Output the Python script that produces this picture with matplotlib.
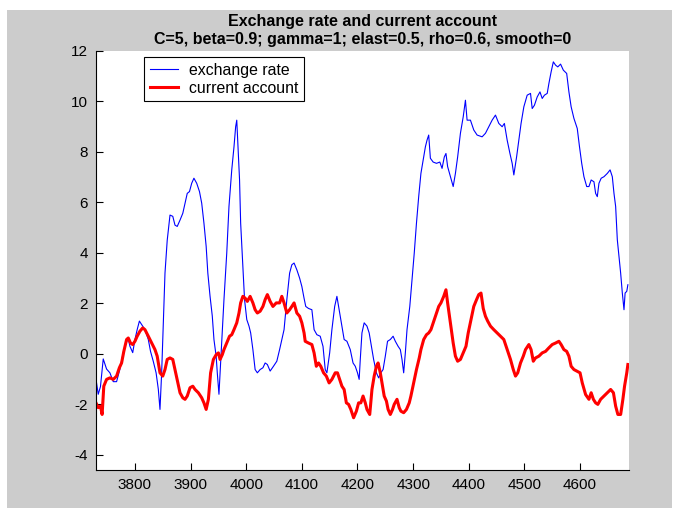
import numpy as np
import matplotlib
matplotlib.use('Agg')
from matplotlib import pyplot as plt
from matplotlib.patches import Rectangle

plt.rcParams['font.family'] = ['Liberation Sans', 'DejaVu Sans']
plt.rcParams['axes.unicode_minus'] = False

title_text = 'Exchange rate and current account\nC=5, beta=0.9; gamma=1; elast=0.5, rho=0.6, smooth=0'
labels = ['exchange rate', 'current account']
x_ticks = [3800, 3900, 4000, 4100, 4200, 4300, 4400, 4500, 4600]
y_ticks = [-4, -2, 0, 2, 4, 6, 8, 10, 12]

# exchange rate
ex_x = [3730, 3734, 3738, 3743, 3749, 3755, 3761, 3767, 3773, 3779, 3784, 3788, 3791, 3796,
        3800, 3804, 3808, 3814, 3818, 3824, 3828, 3833, 3838, 3842, 3845, 3848, 3851, 3854,
        3858, 3863, 3868, 3872, 3876, 3881, 3886, 3890, 3894, 3898, 3902, 3906, 3911, 3916,
        3920, 3924, 3928, 3931, 3935, 3939, 3942, 3946, 3948, 3951, 3953, 3956, 3960, 3965,
        3969, 3974, 3978, 3981, 3983, 3985, 3988, 3990, 3994, 3997, 4001, 4005, 4008, 4012,
        4016, 4020, 4025, 4030, 4034, 4038, 4043, 4049, 4055, 4060, 4064, 4068, 4073, 4078,
        4082, 4086, 4091, 4096, 4100, 4104, 4107, 4112, 4118, 4122, 4127, 4133, 4138, 4142,
        4145, 4150, 4154, 4159, 4163, 4168, 4172, 4176, 4181, 4187, 4192, 4196, 4200, 4203,
        4205, 4208, 4212, 4217, 4221, 4225, 4229, 4234, 4238, 4242, 4246, 4250, 4254, 4259,
        4264, 4268, 4273, 4277, 4280, 4283, 4286, 4289, 4294, 4298, 4302, 4306, 4310, 4314,
        4318, 4322, 4325, 4328, 4331, 4336, 4342, 4348, 4352, 4356, 4359, 4362, 4367, 4372,
        4376, 4380, 4385, 4390, 4394, 4397, 4403, 4409, 4415, 4424, 4430, 4436, 4442, 4448,
        4454, 4460, 4464, 4469, 4474, 4478, 4481, 4486, 4490, 4494, 4499, 4505, 4511, 4514,
        4518, 4523, 4528, 4532, 4536, 4541, 4544, 4548, 4552, 4556, 4560, 4565, 4570, 4576,
        4580, 4584, 4589, 4595, 4599, 4603, 4607, 4612, 4616, 4620, 4625, 4628, 4631, 4634,
        4638, 4643, 4649, 4654, 4658, 4661, 4664, 4667, 4670, 4673, 4676, 4679, 4681, 4684,
        4686]
ex_y = [-1.0, -1.6, -1.3, -0.2, -0.6, -0.75, -1.1, -1.1, -0.6, 0.05, 0.43, 0.6, 0.3, 0.05,
        0.57, 0.96, 1.3, 1.1, 0.96, 0.57, 0.1, -0.3, -0.75, -1.4, -2.2, -0.75, 1.2, 3.2,
        4.5, 5.5, 5.45, 5.1, 5.05, 5.3, 5.57, 5.97, 6.36, 6.43, 6.76, 6.96, 6.76, 6.43,
        5.97, 5.18, 4.26, 3.2, 2.28, 1.5, 0.57, -0.1, -0.75, -1.6, -0.75, 0.57, 2.15, 3.99,
        5.84, 7.29, 8.2, 9.0, 9.26, 8.34, 6.9, 5.18, 3.47, 2.15, 1.36, 1.1, 0.83, 0.17,
        -0.62, -0.75, -0.62, -0.55, -0.36, -0.42, -0.68, -0.49, -0.29, 0.17, 0.57, 0.96, 2.15, 3.2,
        3.53, 3.6, 3.33, 3.0, 2.67, 2.2, 1.88, 1.8, 1.75, 0.96, 0.76, 0.7, 0.3, -0.62,
        -0.75, 0.04, 0.96, 1.88, 2.28, 1.62, 1.1, 0.57, 0.5, 0.17, -0.36, -0.49, -0.75, -1.01,
        -0.22, 0.83, 1.23, 1.1, 0.83, 0.3, -0.22, -0.75, -0.95, -0.75, -0.62, -0.09, 0.5, 0.57,
        0.7, 0.5, 0.3, 0.17, -0.22, -0.75, 0.04, 0.96, 1.88, 2.94, 3.99, 5.18, 6.23, 7.15,
        7.68, 8.2, 8.47, 8.67, 7.75, 7.6, 7.55, 7.6, 7.35, 7.8, 7.94, 7.42, 7.02, 6.63,
        7.15, 7.8, 8.74, 9.39, 10.05, 9.26, 9.26, 8.87, 8.67, 8.6, 8.74, 9.0, 9.26, 9.46,
        9.13, 9.0, 9.13, 8.47, 7.94, 7.55, 7.09, 7.81, 8.47, 9.13, 9.79, 10.25, 10.32, 9.72,
        9.85, 10.18, 10.38, 10.12, 10.25, 10.32, 10.71, 11.17, 11.57, 11.44, 11.37, 11.48, 11.24, 11.11,
        10.38, 9.79, 9.33, 8.93, 8.21, 7.55, 7.02, 6.63, 6.63, 6.89, 6.82, 6.36, 6.23, 6.76,
        6.96, 7.02, 7.15, 7.29, 7.02, 6.36, 5.84, 4.52, 3.86, 3.2, 2.41, 1.75, 2.41, 2.48,
        2.74]

# current account
ca_x = [3730, 3734, 3738, 3741, 3744, 3749, 3755, 3761, 3767, 3772, 3776, 3780, 3785, 3788,
        3792, 3796, 3800, 3804, 3809, 3814, 3818, 3824, 3830, 3836, 3840, 3845, 3850, 3854,
        3858, 3863, 3868, 3872, 3876, 3881, 3886, 3890, 3894, 3899, 3904, 3908, 3914, 3920,
        3924, 3928, 3932, 3936, 3941, 3946, 3950, 3953, 3957, 3960, 3965, 3970, 3974, 3978,
        3983, 3987, 3990, 3994, 3998, 4002, 4007, 4012, 4016, 4020, 4025, 4030, 4034, 4038,
        4043, 4048, 4054, 4060, 4064, 4068, 4073, 4078, 4082, 4086, 4091, 4096, 4100, 4104,
        4106, 4112, 4118, 4122, 4126, 4130, 4134, 4139, 4144, 4149, 4154, 4160, 4164, 4168,
        4172, 4176, 4180, 4184, 4188, 4193, 4198, 4202, 4206, 4210, 4214, 4217, 4222, 4226,
        4230, 4234, 4237, 4241, 4245, 4248, 4252, 4255, 4259, 4263, 4266, 4271, 4275, 4278,
        4283, 4288, 4293, 4296, 4301, 4306, 4311, 4314, 4319, 4324, 4328, 4332, 4337, 4342,
        4346, 4350, 4355, 4359, 4362, 4367, 4372, 4376, 4380, 4385, 4390, 4395, 4399, 4404,
        4409, 4414, 4418, 4422, 4426, 4430, 4434, 4439, 4445, 4451, 4457, 4463, 4469, 4475,
        4480, 4484, 4488, 4493, 4498, 4502, 4508, 4512, 4516, 4520, 4526, 4532, 4538, 4544,
        4550, 4556, 4562, 4566, 4571, 4576, 4580, 4584, 4589, 4594, 4600, 4604, 4610, 4616,
        4620, 4624, 4628, 4632, 4637, 4643, 4649, 4655, 4660, 4664, 4668, 4673, 4677, 4680,
        4684, 4686]
ca_y = [-1.94, -2.13, -2.07, -2.4, -1.28, -1.01, -0.95, -1.01, -0.88, -0.55, -0.36, 0.1, 0.57, 0.63,
        0.43, 0.37, 0.5, 0.7, 0.9, 1.03, 0.96, 0.7, 0.43, 0.17, -0.09, -0.75, -0.88, -0.62,
        -0.22, -0.16, -0.22, -0.62, -1.01, -1.54, -1.74, -1.8, -1.67, -1.34, -1.28, -1.41, -1.54, -1.74,
        -1.94, -2.2, -1.8, -0.75, -0.22, -0.03, 0.04, -0.22, -0.03, 0.17, 0.43, 0.7, 0.76, 0.96,
        1.23, 1.62, 2.02, 2.28, 2.21, 2.08, 2.28, 2.02, 1.75, 1.62, 1.69, 1.88, 2.15, 2.35,
        2.08, 1.88, 2.02, 2.02, 2.28, 2.02, 1.62, 1.75, 1.88, 2.02, 1.62, 1.49, 1.23, 0.83,
        0.5, 0.43, 0.37, 0.04, -0.49, -0.36, -0.49, -0.75, -0.88, -1.15, -1.01, -0.75, -0.75, -1.01,
        -1.28, -1.41, -1.94, -2.0, -2.2, -2.53, -2.27, -1.94, -1.94, -1.67, -1.94, -2.2, -2.4, -1.41,
        -0.88, -0.49, -0.36, -0.75, -1.28, -1.67, -1.87, -2.2, -2.4, -2.2, -2.0, -1.8, -2.13, -2.27,
        -2.33, -2.2, -1.94, -1.67, -1.15, -0.62, -0.16, 0.17, 0.57, 0.76, 0.83, 0.96, 1.29, 1.62,
        1.88, 2.02, 2.28, 2.54, 2.02, 1.23, 0.43, -0.09, -0.29, -0.22, 0.04, 0.3, 0.83, 1.36,
        1.88, 2.15, 2.35, 2.41, 1.8, 1.49, 1.3, 1.1, 0.96, 0.83, 0.7, 0.57, 0.17, -0.22,
        -0.62, -0.88, -0.75, -0.36, -0.09, 0.17, 0.37, 0.17, -0.29, -0.16, -0.09, 0.04, 0.1, 0.24,
        0.37, 0.43, 0.5, 0.37, 0.17, 0.1, -0.09, -0.49, -0.62, -0.68, -0.75, -1.15, -1.61, -1.8,
        -1.54, -1.8, -1.94, -2.0, -1.8, -1.67, -1.54, -1.41, -1.54, -2.07, -2.4, -2.4, -1.8, -1.28,
        -0.75, -0.42]

fig = plt.figure(figsize=(6.8, 5.18), dpi=100, facecolor='white')
# grey window area, white margin around it like the screenshot
fig.patches.append(Rectangle((7 / 680, 10 / 518), 665 / 680, 498 / 518,
                             transform=fig.transFigure, facecolor='#cccccc',
                             edgecolor='none', zorder=-10))

ax = fig.add_axes([96 / 680, 48 / 518, 533 / 680, 419 / 518])
ax.set_facecolor('white')

ax.plot(ex_x, ex_y, color='#0000ff', linewidth=0.8, label=labels[0])
ax.plot(ca_x, ca_y, color='#ff0000', linewidth=2.2, label=labels[1])

ax.set_xlim(3730, 4688)
ax.set_ylim(-4.6, 12)
ax.set_xticks(x_ticks)
ax.set_yticks(y_ticks)
ax.tick_params(direction='in', length=5, width=0.8, labelsize=11, pad=6,
               top=False, right=False)
for side in ['top', 'right']:
    ax.spines[side].set_visible(False)
for side in ['left', 'bottom']:
    ax.spines[side].set_linewidth(0.8)

ax.set_title(title_text, fontsize=11.5, fontweight='bold', pad=5, linespacing=1.25)

leg = ax.legend(loc='upper left', bbox_to_anchor=(48 / 533, 1 - 6 / 419),
                borderaxespad=0, fontsize=11.4, handlelength=1.8, handletextpad=0.7,
                labelspacing=0.2, borderpad=0.35, fancybox=False, framealpha=1)
leg.get_frame().set_edgecolor('black')
leg.get_frame().set_linewidth(0.8)

fig.savefig('out.png', dpi=100, facecolor=fig.get_facecolor())
